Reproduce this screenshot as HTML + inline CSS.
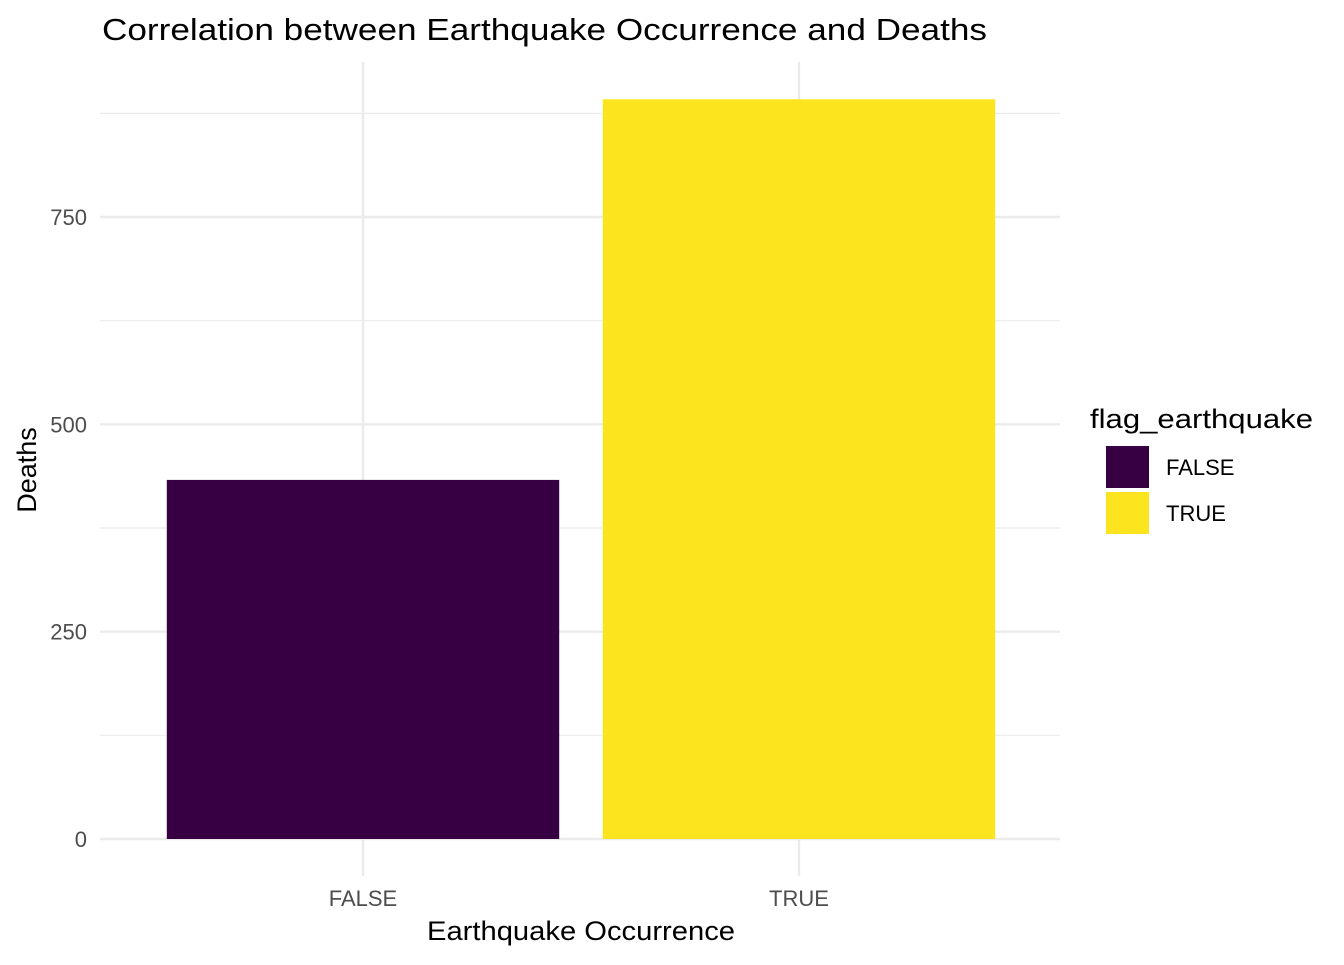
<!DOCTYPE html>
<html><head><meta charset="utf-8"><style>
body{margin:0;background:#fff;font-family:"Liberation Sans",Arial,sans-serif;}
svg text{font-family:"Liberation Sans",Arial,sans-serif;}
</style></head><body>
<svg id="chart" width="1344" height="960" xmlns="http://www.w3.org/2000/svg">
<rect width="1344" height="960" fill="#fff"/>
<text x="102" y="40" font-size="31" fill="#000" textLength="885" lengthAdjust="spacingAndGlyphs">Correlation between Earthquake Occurrence and Deaths</text>
<g id="grid"></g>
<g id="bars"></g>
<g id="ticks"></g>
<text x="581" y="940" font-size="27" text-anchor="middle" fill="#000" textLength="308" lengthAdjust="spacingAndGlyphs">Earthquake Occurrence</text>
<text transform="translate(36,470) rotate(-90)" font-size="27" text-anchor="middle" fill="#000">Deaths</text>
<g>
<text x="1090" y="428" font-size="27" fill="#000" textLength="223" lengthAdjust="spacingAndGlyphs">flag_earthquake</text>
<g id="legend-items"></g>
</g>
</svg>
<script>
const categories = ["FALSE", "TRUE"];
const deaths = [433, 892];
const colors = ["#360043", "#FCE51E"];
const yTicks = [0, 250, 500, 750];
const yMinor = [125, 375, 625, 875];

const plotL = 100, plotR = 1060, y0 = 839, pxPerUnit = 207.33 / 250;
function yScale(v){ return y0 - v * pxPerUnit; }
const step = 436, firstCenter = 363;
function xScale(i){ return firstCenter + i * step; }
const NS = "http://www.w3.org/2000/svg";
function mk(tag, attrs, parent){ const e = document.createElementNS(NS, tag); for (const k in attrs) e.setAttribute(k, attrs[k]); parent.appendChild(e); return e; }

const grid = document.getElementById("grid");
yMinor.forEach(v => {
  const l = mk("line", {x1: plotL, x2: plotR, y1: yScale(v), y2: yScale(v), stroke: "#ebebeb", "stroke-width": 1.2}, grid);
  
  
});
yTicks.forEach(v => {
  const l = mk("line", {x1: plotL, x2: plotR, y1: yScale(v), y2: yScale(v), stroke: "#ebebeb", "stroke-width": 2.4}, grid);
  
  
});
categories.forEach((c, i) => {
  const l = mk("line", {x1: xScale(i), x2: xScale(i), y1: 62, y2: 876, stroke: "#ebebeb", "stroke-width": 2.4}, grid);
  
  
});

const bars = document.getElementById("bars");
const bw = step * 0.9;
categories.forEach((c, i) => {
  const r = mk("rect", {x: xScale(i) - bw / 2, y: yScale(deaths[i]), width: bw, height: y0 - yScale(deaths[i]), fill: colors[i]}, bars);
  
  
});

const ticks = document.getElementById("ticks");
yTicks.forEach(v => {
  const t = mk("text", {x: 87, y: yScale(v) + 8, "font-size": 22, "text-anchor": "end", fill: "#4d4d4d"}, ticks);
  t.textContent = v;
  
  
});
categories.forEach((c, i) => {
  const t = mk("text", {x: xScale(i), y: 906, "font-size": 22, "text-anchor": "middle", fill: "#4d4d4d"}, ticks);
  t.textContent = c;
  
  
});

const leg = document.getElementById("legend-items");
categories.forEach((c, i) => {
  const r = mk("rect", {x: 1106, y: 446 + i * 46, width: 43, height: 42, fill: colors[i]}, leg);
  
  
  const t = mk("text", {x: 1166, y: 475 + i * 46, "font-size": 22, fill: "#000"}, leg);
  t.textContent = c;
  
  
});
</script>
</body></html>
